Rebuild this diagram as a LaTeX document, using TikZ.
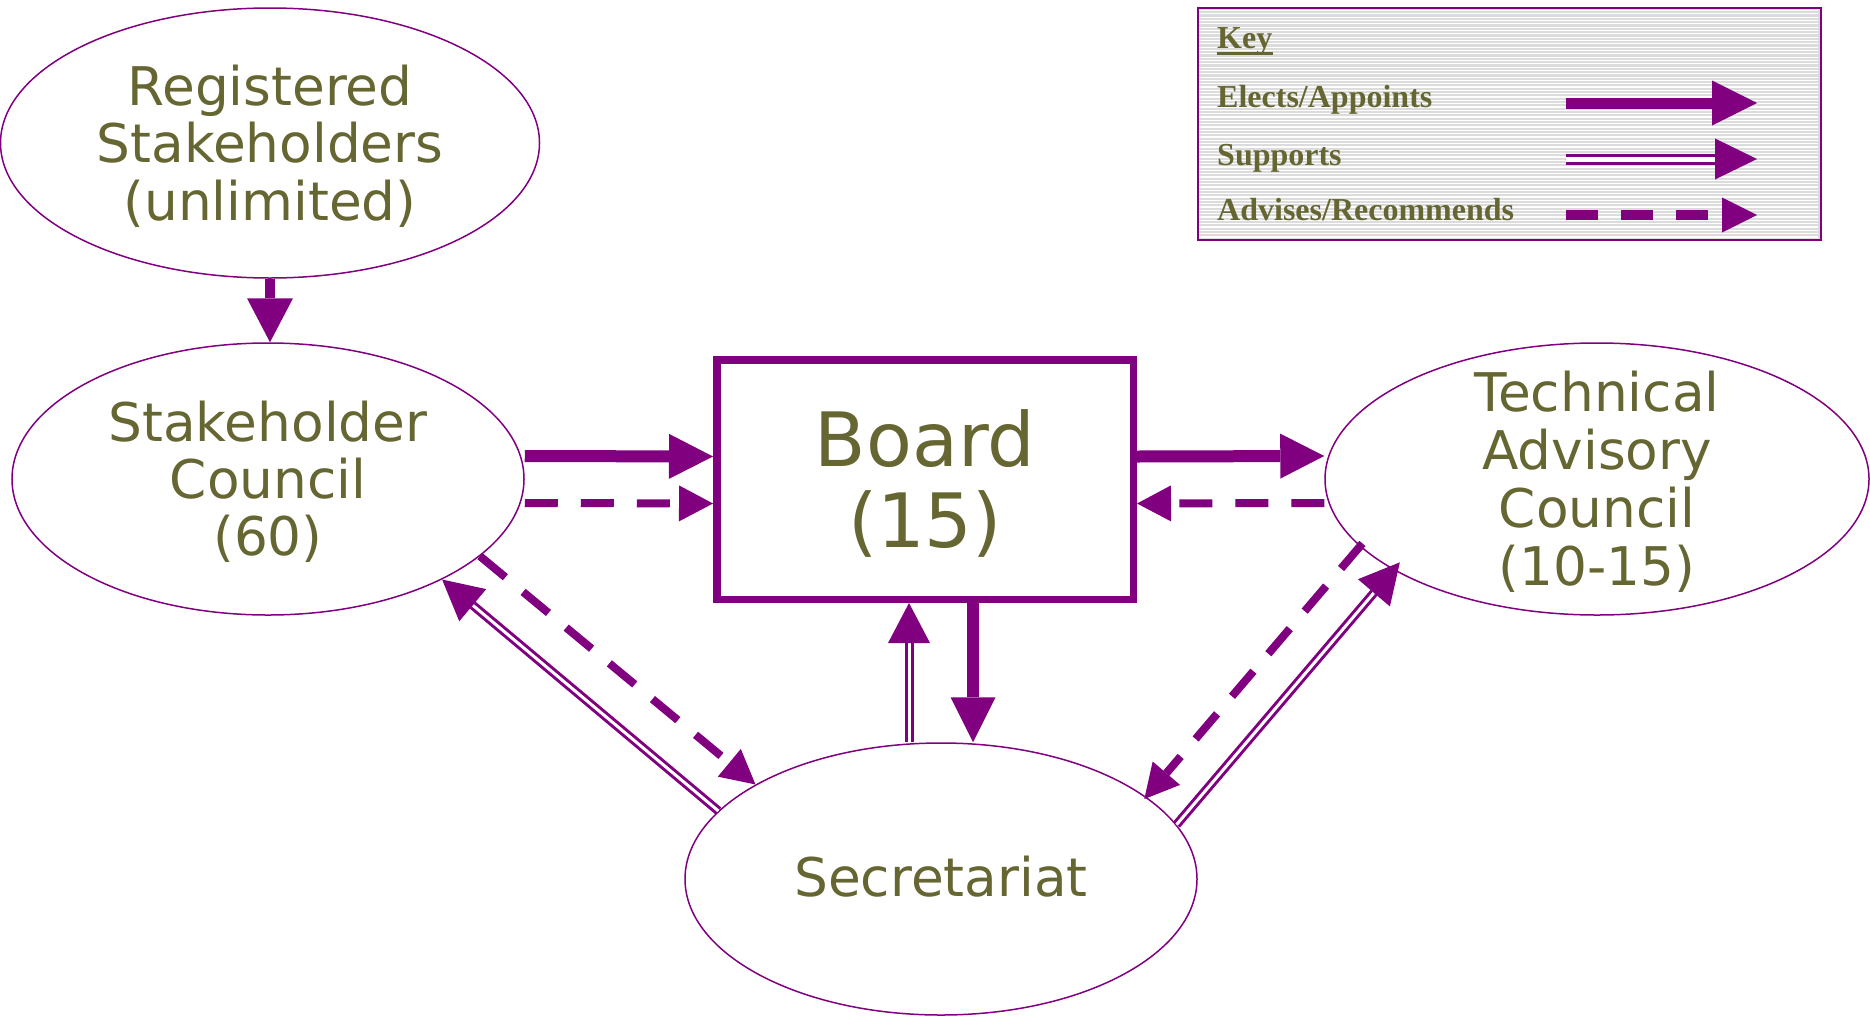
\documentclass[tikz,border=0pt]{standalone}
\usepackage{fontspec}
\setmainfont{DejaVu Sans}
\newfontfamily\keyfont{Liberation Serif}
\usetikzlibrary{arrows.meta,shapes.geometric}
\definecolor{pur}{HTML}{800080}
\definecolor{olv}{HTML}{666633}
\definecolor{keygray}{HTML}{DCDCDC}
\begin{document}
\begin{tikzpicture}[x=1pt,y=-1pt,
  ell/.style={ellipse, draw=pur, line width=1.5pt, inner sep=0pt},
  lbl/.style={text=olv, font=\fontsize{53.3}{57.5}\selectfont, align=center, inner sep=0pt},
  keytxt/.style={text=olv, font=\keyfont\bfseries\fontsize{32}{36}\selectfont, inner sep=0pt, anchor=base west},
  elect/.style={draw=pur, line width=12pt, -{Triangle[length=44pt,width=45pt,line width=0pt]}},
  advise/.style={draw=pur, line width=8pt, dash pattern=on 33pt off 23pt, -{Triangle[length=34pt,width=36pt,line width=0pt]}},
  supp/.style={draw=pur, double=white, line width=3pt, double distance=3pt, -{Triangle[length=40pt,width=42pt,line width=0pt]}}
]
\useasboundingbox (0,0) rectangle (1870,1020);

% nodes
\node[ell, minimum width=539pt, minimum height=270pt] (reg) at (270,143) {};
\node[lbl] (regt) at (270,145.8) {Registered\\Stakeholders\\(unlimited)};

\node[ell, minimum width=512pt, minimum height=272pt] (council) at (268,479) {};
\node[lbl, font=\fontsize{53.3}{57}\selectfont] (councilt) at (268,481.3) {Stakeholder\\Council\\(60)};

\node[draw=pur, line width=7.5pt, minimum width=416.5pt, minimum height=239.5pt, inner sep=0pt] (board) at (925,479.5) {};
\node[lbl, font=\fontsize{75}{81}\selectfont] (boardt) at (925,483) {Board\\(15)};

\node[ell, minimum width=544pt, minimum height=272pt] (tac) at (1597,479) {};
\node[lbl, font=\fontsize{53.3}{57.7}\selectfont] (tact) at (1597,481.8) {Technical\\Advisory\\Council\\(10-15)};

\node[ell, minimum width=512pt, minimum height=272pt] (sec) at (941,879) {};
\node[lbl] (sect) at (941,876.7) {Secretariat};

% connectors
\draw[elect, line width=10pt, -{Triangle[length=44pt,width=46pt,line width=0pt]}] (reg.south) -- (reg.south |- council.north);

\draw[elect] ([yshift=23pt]council.east) -- ([yshift=23pt]board.west);
\draw[advise] ([yshift=-24pt]council.east) -- ([yshift=-24pt]board.west);

\draw[elect] ([yshift=23pt]board.east) -- ([yshift=23pt]tac.west);
\draw[advise] ([yshift=-24pt]tac.west) -- ([yshift=-24pt]board.east);

\draw[elect, -{Triangle[length=45pt,width=45pt,line width=0pt]}] ([xshift=48pt]board.south) -- ([xshift=32pt]sec.north);
\draw[supp] ([xshift=-32pt]sec.north) -- ([xshift=-16pt]board.south);

\draw[advise] (council.-20) -- (sec.153);
\draw[supp] (sec.163) -- (council.-30);

\draw[advise] ([xshift=6pt]tac.195) -- ([xshift=-5pt]sec.21.5);
\draw[supp] (sec.13.7) -- ([xshift=11pt,yshift=5pt]tac.203);

% key
\node[draw=pur, line width=2pt, fill=keygray, minimum width=623pt, minimum height=232pt, inner sep=0pt] (key) at (1509.5,124) {};
\foreach \i in {0,...,68}
  \draw[white, line width=1.2pt] ([xshift=2pt]key.north west) ++(0,3.5+3.33*\i) -- ++(619,0);
\draw[pur, line width=2pt] (key.north west) ++(1,1) rectangle ([xshift=-1pt,yshift=1pt]key.south east);

\node[keytxt] (kkey) at (1217,48) {Key};
\draw[olv, line width=3pt] ([yshift=-5.5pt]kkey.base west) -- ([yshift=-5.5pt]kkey.base east);
\node[keytxt] (kel) at (1217,107) {Elects/Appoints};
\node[keytxt] (ksu) at (1217,165) {Supports};
\node[keytxt] (kad) at (1217,220) {Advises/Recommends};

\coordinate (e1) at (1566,103);
\coordinate (e2) at (1757,103);
\coordinate (s1) at (1566,159);
\coordinate (s2) at (1757,159);
\coordinate (a1) at (1566,215);
\coordinate (a2) at (1757,215);
\draw[elect, line width=11pt, -{Triangle[length=45pt,width=45pt,line width=0pt]}] (e1) -- (e2);
\draw[supp, line width=3pt, double distance=5pt, -{Triangle[length=42pt,width=41pt,line width=0pt]}] (s1) -- (s2);
\draw[advise, line width=10pt, dash pattern=on 32pt off 23pt, -{Triangle[length=35pt,width=35pt,line width=0pt]}] (a1) -- (a2);
\end{tikzpicture}
\end{document}
